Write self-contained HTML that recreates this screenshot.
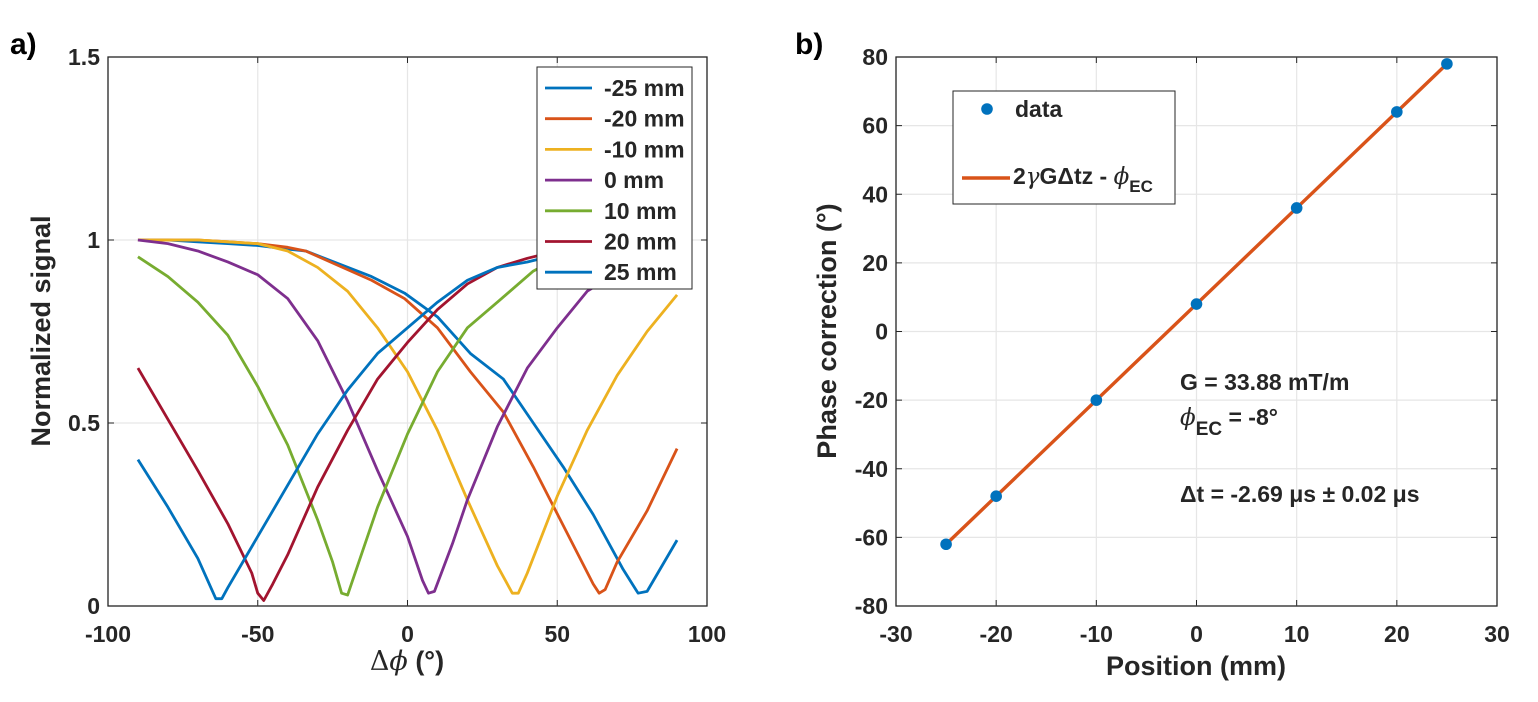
<!DOCTYPE html>
<html><head><meta charset="utf-8"><style>
body{margin:0;background:#fff;}
svg{display:block;font-family:"Liberation Sans",Arial,sans-serif;}
.tick{font-size:23px;font-weight:bold;fill:#262626;}
.lab{font-size:27px;font-weight:bold;fill:#262626;}
.grid{stroke:#e6e6e6;stroke-width:1.2;}
</style></head><body>
<svg id="fig" width="1538" height="702" viewBox="0 0 1538 702">
<g id="pa"></g>
<g id="pb"></g>
</svg>
<script>
// Panel a data
const phiA = [-90,-80,-70,-60,-50,-40,-30,-20,-10,0,10,20,30,40,50,60,70,80,90];
const seriesNames = ["-25 mm","-20 mm","-10 mm","0 mm","10 mm","20 mm","25 mm"];
const seriesColors = ["#0072BD","#D95319","#EDB120","#7E2F8E","#77AC30","#A2142F","#0072BD"];
const sM25 = [[-90,1.0],[-80,1.0],[-70,0.995],[-60,0.99],[-50,0.985],[-40,0.975],[-34,0.97],[-12,0.9],[-1,0.855],[10,0.79],[21,0.69],[32,0.62],[42,0.5],[52,0.38],[62,0.25],[72,0.1],[77,0.035],[80,0.04],[90,0.18]];
const sM20 = [[-90,1.0],[-80,1.0],[-70,1.0],[-60,0.995],[-50,0.99],[-40,0.98],[-34,0.97],[-12,0.89],[-1,0.84],[10,0.76],[21,0.64],[32,0.53],[42,0.38],[52,0.22],[62,0.06],[64,0.035],[66,0.045],[70,0.12],[80,0.26],[90,0.43]];
const sM10 = [[-90,1.0],[-80,1.0],[-70,1.0],[-60,0.995],[-50,0.99],[-40,0.97],[-30,0.925],[-20,0.86],[-10,0.76],[0,0.64],[10,0.48],[20,0.29],[30,0.11],[35,0.035],[37,0.035],[40,0.09],[50,0.3],[60,0.48],[70,0.63],[80,0.75],[90,0.85]];
const s0 = [[-90,1.0],[-80,0.99],[-70,0.97],[-60,0.94],[-50,0.905],[-40,0.84],[-30,0.725],[-20,0.56],[-10,0.37],[0,0.19],[5,0.07],[7,0.035],[9,0.04],[15,0.17],[20,0.29],[30,0.49],[40,0.65],[50,0.76],[60,0.86],[70,0.91],[80,0.95],[90,0.97]];
const s10 = [[-90,0.954],[-80,0.9],[-70,0.83],[-60,0.74],[-50,0.6],[-40,0.44],[-30,0.235],[-25,0.12],[-22,0.035],[-20,0.03],[-15,0.15],[-10,0.27],[0,0.47],[10,0.64],[20,0.76],[30,0.83],[42,0.915],[50,0.95],[60,0.97],[70,0.99],[80,1.0],[90,1.0]];
const s20 = [[-90,0.65],[-80,0.51],[-70,0.37],[-60,0.225],[-52,0.09],[-50,0.035],[-48,0.015],[-45,0.06],[-40,0.14],[-30,0.325],[-20,0.48],[-10,0.62],[0,0.72],[10,0.81],[20,0.88],[30,0.925],[40,0.95],[50,0.97],[60,0.98],[70,0.99],[80,1.0],[90,1.0]];
const s25 = [[-90,0.4],[-80,0.27],[-70,0.13],[-64,0.02],[-62,0.02],[-60,0.05],[-50,0.19],[-40,0.33],[-30,0.47],[-20,0.59],[-10,0.69],[0,0.76],[10,0.83],[20,0.89],[30,0.925],[40,0.94],[50,0.96],[60,0.97],[70,0.98],[80,0.99],[90,1.0]];
const seriesA = [sM25,sM20,sM10,s0,s10,s20,s25];
const xTicksA = [-100,-50,0,50,100];
const yTicksA = [0,0.5,1,1.5];
const yTickLabelsA = ["0","0.5","1","1.5"];
// Panel b data
const posB = [-25,-20,-10,0,10,20,25];
const phaseB = [-62,-48,-20,8,36,64,78];
const fitSlope = 2.8;
const fitIntercept = 8;
const xTicksB = [-30,-20,-10,0,10,20,30];
const yTicksB = [-80,-60,-40,-20,0,20,40,60,80];

const NS="http://www.w3.org/2000/svg";
function mk(parent,tag,attrs){const e=document.createElementNS(NS,tag);for(const k in attrs)e.setAttribute(k,attrs[k]);parent.appendChild(e);return e;}

// Panel a
const pa=document.getElementById('pa');
const ax={l:108,r:707,t:57,b:606};
const xA=v=>ax.l+(v+100)/200*(ax.r-ax.l);
const yA=v=>ax.b-v/1.5*(ax.b-ax.t);
xTicksA.forEach(t=>{
  const g=mk(pa,'line',{x1:xA(t),x2:xA(t),y1:ax.t,y2:ax.b,class:'grid'});
  
  
  mk(pa,'line',{x1:xA(t),x2:xA(t),y1:ax.b,y2:ax.b-6,stroke:'#262626','stroke-width':1});
  mk(pa,'line',{x1:xA(t),x2:xA(t),y1:ax.t,y2:ax.t+6,stroke:'#262626','stroke-width':1});
  const tx=mk(pa,'text',{x:xA(t),y:ax.b+36,'text-anchor':'middle',class:'tick'});tx.textContent=t;
  
  
});
yTicksA.forEach((t,i)=>{
  const g=mk(pa,'line',{x1:ax.l,x2:ax.r,y1:yA(t),y2:yA(t),class:'grid'});
  
  
  mk(pa,'line',{x1:ax.l,x2:ax.l+6,y1:yA(t),y2:yA(t),stroke:'#262626','stroke-width':1});
  mk(pa,'line',{x1:ax.r,x2:ax.r-6,y1:yA(t),y2:yA(t),stroke:'#262626','stroke-width':1});
  const tx=mk(pa,'text',{x:ax.l-8,y:yA(t)+8,'text-anchor':'end',class:'tick'});tx.textContent=yTickLabelsA[i];
  
  
});
seriesA.forEach((s,i)=>{
  const p=mk(pa,'polyline',{points:s.map(d=>xA(d[0])+','+yA(d[1])).join(' '),fill:'none',stroke:seriesColors[i],'stroke-width':2.8,'stroke-linejoin':'round'});
  
  
});
const boxA=mk(pa,'rect',{x:ax.l,y:ax.t,width:ax.r-ax.l,height:ax.b-ax.t,fill:'none',stroke:'#262626','stroke-width':1.3});


// legend a
const lg=mk(pa,'g',{});


mk(lg,'rect',{x:537,y:67,width:155,height:222,fill:'#fff',stroke:'#262626','stroke-width':1});
seriesNames.forEach((n,i)=>{
  const y=88+i*30.7;
  const e=mk(lg,'g',{});
  
  
  mk(e,'line',{x1:545,x2:592,y1:y,y2:y,stroke:seriesColors[i],'stroke-width':2.8});
  const t=mk(e,'text',{x:604,y:y+8,class:'tick'});t.textContent=n;
});
const xl=mk(pa,'text',{x:407,y:670,'text-anchor':'middle',class:'lab'});
xl.innerHTML='<tspan font-weight="normal" font-family="DejaVu Serif">Δ</tspan><tspan font-style="italic" font-family="DejaVu Serif" font-weight="normal">ϕ</tspan> <tspan font-weight="bold">(°)</tspan>';


const yl=mk(pa,'text',{x:50,y:331,'text-anchor':'middle',class:'lab','font-size':'28',transform:'rotate(-90 50 331)'});yl.textContent='Normalized signal';


const la=mk(pa,'text',{x:10,y:54,'font-size':'30','font-weight':'bold',fill:'#000'});la.textContent='a)';



// Panel b
const pb=document.getElementById('pb');
const bx={l:896,r:1497,t:57,b:606};
const xB=v=>bx.l+(v+30)/60*(bx.r-bx.l);
const yB=v=>bx.b-(v+80)/160*(bx.b-bx.t);
xTicksB.forEach(t=>{
  const g=mk(pb,'line',{x1:xB(t),x2:xB(t),y1:bx.t,y2:bx.b,class:'grid'});
  
  
  mk(pb,'line',{x1:xB(t),x2:xB(t),y1:bx.b,y2:bx.b-6,stroke:'#262626','stroke-width':1});
  mk(pb,'line',{x1:xB(t),x2:xB(t),y1:bx.t,y2:bx.t+6,stroke:'#262626','stroke-width':1});
  const tx=mk(pb,'text',{x:xB(t),y:bx.b+36,'text-anchor':'middle',class:'tick'});tx.textContent=t;
  
  
});
yTicksB.forEach(t=>{
  const g=mk(pb,'line',{x1:bx.l,x2:bx.r,y1:yB(t),y2:yB(t),class:'grid'});
  
  
  mk(pb,'line',{x1:bx.l,x2:bx.l+6,y1:yB(t),y2:yB(t),stroke:'#262626','stroke-width':1});
  mk(pb,'line',{x1:bx.r,x2:bx.r-6,y1:yB(t),y2:yB(t),stroke:'#262626','stroke-width':1});
  const tx=mk(pb,'text',{x:bx.l-8,y:yB(t)+8,'text-anchor':'end',class:'tick'});tx.textContent=t;
  
  
});
const x0=posB[0],x1=posB[posB.length-1];
const fit=mk(pb,'line',{x1:xB(x0),y1:yB(fitSlope*x0+fitIntercept),x2:xB(x1),y2:yB(fitSlope*x1+fitIntercept),stroke:'#D95319','stroke-width':3.4});


posB.forEach((p,i)=>{
  const c=mk(pb,'circle',{cx:xB(p),cy:yB(phaseB[i]),r:5.8,fill:'#0072BD'});
  
  
});
const boxB=mk(pb,'rect',{x:bx.l,y:bx.t,width:bx.r-bx.l,height:bx.b-bx.t,fill:'none',stroke:'#262626','stroke-width':1.3});


const lgb=mk(pb,'g',{});


mk(lgb,'rect',{x:953,y:91,width:222,height:113,fill:'#fff',stroke:'#262626','stroke-width':1});
mk(lgb,'circle',{cx:987,cy:109,r:5.8,fill:'#0072BD'});
const t1=mk(lgb,'text',{x:1015,y:117,class:'tick'});t1.textContent='data';
mk(lgb,'line',{x1:962,x2:1010,y1:178,y2:178,stroke:'#D95319','stroke-width':3.4});
const t2=mk(lgb,'text',{x:1013,y:184,class:'tick'});
t2.innerHTML='2<tspan font-style="italic" font-weight="normal" font-family="DejaVu Serif">γ</tspan>GΔtz - <tspan font-style="italic" font-weight="normal" font-family="DejaVu Serif">ϕ</tspan><tspan dy="8" font-size="17">EC</tspan>';
const a1=mk(pb,'text',{x:1180,y:390,class:'tick','font-size':'24'});a1.textContent='G = 33.88 mT/m';


const a2=mk(pb,'text',{x:1180,y:425,class:'tick','font-size':'24'});
a2.innerHTML='<tspan font-style="italic" font-weight="normal" font-family="DejaVu Serif">ϕ</tspan><tspan dy="10" font-size="19">EC</tspan><tspan dy="-10"> = -8°</tspan>';


const a3=mk(pb,'text',{x:1180,y:502,class:'tick','font-size':'24'});a3.textContent='Δt = -2.69 μs ± 0.02 μs';


const xlb=mk(pb,'text',{x:1196,y:675,'text-anchor':'middle',class:'lab'});xlb.textContent='Position (mm)';


const ylb=mk(pb,'text',{x:836,y:331,'text-anchor':'middle',class:'lab','font-size':'28',transform:'rotate(-90 836 331)'});ylb.textContent='Phase correction (°)';


const lb=mk(pb,'text',{x:795,y:54,'font-size':'30','font-weight':'bold',fill:'#000'});lb.textContent='b)';


</script>
</body></html>
